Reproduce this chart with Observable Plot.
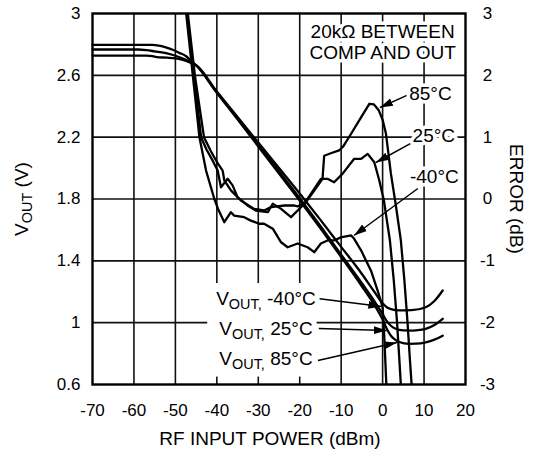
<!DOCTYPE html>
<html><head><meta charset="utf-8">
<script src="https://cdn.jsdelivr.net/npm/d3@7"></script>
<script src="https://cdn.jsdelivr.net/npm/@observablehq/plot@0.6"></script>
<style>
body{margin:0;background:#fff;}
#chart svg{display:block;}
</style></head><body><div id="chart"></div>
<script>
// ---- axes / ticks ----
const xTicks = [-70, -60, -50, -40, -30, -20, -10, 0, 10, 20];
const xTickLabels = ["-70", "-60", "-50", "-40", "-30", "-20", "-10", "0", "10", "20"];
const vTicks = [0.6, 1.0, 1.4, 1.8, 2.2, 2.6, 3.0];
const vTickLabels = ["0.6", "1", "1.4", "1.8", "2.2", "2.6", "3"];
const errTicks = [-3, -2, -1, 0, 1, 2, 3];
const errTickLabels = ["-3", "-2", "-1", "0", "1", "2", "3"];
const gridX = [-60, -50, -40, -30, -20, -10, 0, 10];
const gridV = [1.0, 1.4, 1.8, 2.2, 2.6];

// ---- VOUT (V) vs RF input power (dBm) ----
const voutM40 = [[-70,2.728],[-57,2.728],[-55.5,2.724],[-54.5,2.718],[-52,2.714],[-50,2.709],[-48,2.698],[-46.5,2.684],[-45,2.665],[-40,2.495],[-35,2.33],[-30,2.165],[-25,2.0],[-20,1.835],[-15,1.665],[-10,1.49],[-5,1.315],[-2,1.2],[0,1.125],[1,1.1],[2,1.088],[4,1.079],[7,1.081],[10.4,1.1],[12.5,1.14],[14.5,1.208]];
const vout25 = [[-70,2.767],[-59,2.767],[-57,2.763],[-55,2.755],[-52,2.742],[-49.5,2.722],[-47.5,2.70],[-46,2.68],[-45,2.665],[-40,2.49],[-35,2.32],[-30,2.15],[-25,1.98],[-20,1.805],[-15,1.625],[-10,1.44],[-5,1.255],[-2,1.14],[0,1.055],[1,1.01],[2,0.98],[3,0.962],[5,0.95],[7.2,0.949],[9,0.953],[10.4,0.96],[12.5,0.985],[14.5,1.025]];
const vout85 = [[-70,2.797],[-55.5,2.797],[-54,2.792],[-52.5,2.782],[-50.5,2.764],[-49,2.745],[-47.5,2.725],[-46.3,2.697],[-45,2.665],[-40,2.487],[-35,2.315],[-30,2.14],[-25,1.965],[-20,1.79],[-15,1.61],[-10,1.425],[-5,1.235],[-2,1.115],[0,1.02],[1,0.96],[2,0.915],[3,0.89],[4,0.875],[6.4,0.863],[8,0.864],[10.4,0.873],[12.5,0.89],[14.5,0.916]];

// ---- Error (dB) vs RF input power (dBm) ----
const errM40 = [[-48.7,3.8],[-47.4,3.0],[-45.8,2.0],[-44.2,1.0],[-42.6,0.46],[-40.6,0.0],[-39.7,-0.16],[-38.2,-0.375],[-36.6,-0.213],[-35.8,-0.27],[-33.4,-0.294],[-31.8,-0.35],[-29.8,-0.40],[-28.6,-0.40],[-26.5,-0.48],[-24.5,-0.70],[-22.9,-0.78],[-20.5,-0.72],[-18.1,-0.78],[-16.5,-0.86],[-14.9,-0.72],[-13.3,-0.67],[-11.7,-0.67],[-10.1,-0.62],[-7.6,-0.59],[-6.9,-0.64],[-5.2,-0.83],[-2.8,-1.16],[-1.2,-1.48],[0.0,-1.75],[0.4,-2.23],[0.9,-3.0],[1.0,-3.3]];
const err25 = [[-48.4,3.8],[-47.0,3.0],[-45.3,2.0],[-43.1,1.0],[-41.5,0.78],[-40,0.6],[-38.6,0.46],[-38.2,0.30],[-36.6,0.14],[-34.2,-0.024],[-31.0,-0.16],[-28.6,-0.186],[-26.9,-0.13],[-23.7,-0.105],[-21.3,-0.105],[-20.5,-0.12],[-18.9,-0.077],[-17.3,0.084],[-14.9,0.327],[-13.3,0.327],[-11.7,0.27],[-9.65,0.41],[-6.85,0.65],[-5.2,0.65],[-3.6,0.73],[-2.0,0.595],[-0.8,0.3],[0.3,-0.02],[1.76,-0.67],[2.7,-1.32],[3.45,-1.965],[4.05,-2.61],[4.4,-3.0],[4.6,-3.3]];
const err85 = [[-48.6,3.8],[-47.2,3.0],[-45.5,2.0],[-43.8,1.0],[-42.5,0.8],[-41,0.62],[-39.8,0.46],[-39.0,0.19],[-37.4,0.327],[-36.2,0.22],[-35.0,0.03],[-32.6,-0.105],[-30.6,-0.186],[-27.7,-0.213],[-26.5,-0.077],[-24.5,-0.16],[-22.1,-0.294],[-19.7,-0.133],[-18.5,-0.05],[-16.5,0.138],[-14.5,0.327],[-14.1,0.70],[-12.5,0.74],[-10.5,0.785],[-9.5,0.85],[-7.6,1.055],[-5.2,1.32],[-3.2,1.54],[-2.1,1.53],[-0.9,1.43],[0.0,1.28],[0.8,1.06],[2.0,0.41],[3.2,-0.105],[4.4,-0.67],[5.26,-1.32],[5.98,-1.965],[6.6,-2.61],[7.0,-3.0],[7.2,-3.3]];

// ---- annotations (data coordinates: dBm, V) ----
const noteText = ["20kΩ BETWEEN\nCOMP AND OUT"];
const noteAt = [0.0, 2.815];
const curveLabels = ["85°C", "25°C", "-40°C"];
const curveLabelAt = [[6.42, 2.478], [7.24, 2.207], [6.59, 1.941]];
const voutLabels = ["VOUT, -40°C", "VOUT, 25°C", "VOUT, 85°C"];
const voutLabelAt = [[-28.15, 1.154], [-28.15, 0.960], [-28.15, 0.766]];
const voutLabelBox = [[-42.2, 0.648, -15.8, 1.253]];
const arrowFrom = [[6.0, 2.472], [6.8, 2.16], [8.5, 1.868], [-15.2, 1.154], [-15.4, 0.962], [-15.6, 0.755]];
const arrowTo = [[-0.65, 2.392], [-1.62, 2.036], [-6.9, 1.564], [-0.3, 1.105], [1.0, 0.949], [3.45, 0.872]];

// error (dB, right axis) -> volts (left axis): -3..3 dB spans 0.6..3 V
const errToV = e => 1.8 + 0.4 * e;

const rows = (arr, s, f = v => v) => arr.map(([p, v]) => ({p, v: f(v), s}));
const voutRows = [...rows(voutM40, "-40"), ...rows(vout25, "25"), ...rows(vout85, "85")];
const errRows = [...rows(errM40, "-40", errToV), ...rows(err25, "25", errToV), ...rows(err85, "85", errToV)];
const arrowRows = arrowFrom.map((a, i) => ({x1: a[0], y1: a[1], x2: arrowTo[i][0], y2: arrowTo[i][1]}));
const idx = (arr, d) => arr.findIndex(t => Math.abs(t - d) < 1e-6);

const FONT = "'Liberation Sans', Arial, Helvetica, sans-serif";

const chart = Plot.plot({
  width: 533, height: 454,
  marginLeft: 92, marginRight: 68, marginTop: 13, marginBottom: 70,
  style: {fontFamily: FONT, fontSize: "17px", background: "white", color: "black", overflow: "visible"},
  x: {domain: [-70, 20], ticks: xTicks, tickFormat: d => xTickLabels[idx(xTicks, d)], tickSize: 0, tickPadding: 19, label: null},
  y: {domain: [0.6, 3], ticks: vTicks, tickFormat: d => vTickLabels[idx(vTicks, d)], tickSize: 0, tickPadding: 12, label: null},
  marks: [
    Plot.ruleX(gridX, {stroke: "#111", strokeWidth: 1.6}),
    Plot.ruleY(gridV, {stroke: "#111", strokeWidth: 1.6}),
    Plot.rect(voutLabelBox, {x1: d => d[0], y1: d => d[1], x2: d => d[2], y2: d => d[3], fill: "white"}),
    Plot.frame({stroke: "black", strokeWidth: 2.4}),
    Plot.line(voutRows, {x: "p", y: "v", z: "s", stroke: "black", strokeWidth: 2.3, curve: "monotone-x"}),
    Plot.line(errRows, {x: "p", y: "v", z: "s", stroke: "black", strokeWidth: 2.3, strokeLinejoin: "round", clip: true}),
    Plot.link(arrowRows, {x1: "x1", y1: "y1", x2: "x2", y2: "y2", stroke: "black", strokeWidth: 1.5}),
    Plot.text(noteText, {x: () => noteAt[0], y: () => noteAt[1], text: d => d, fontSize: 19, lineHeight: 1.1, textAnchor: "middle", lineAnchor: "middle", stroke: "white", strokeWidth: 7, fill: "black"}),
    Plot.text(curveLabels, {x: (d, i) => curveLabelAt[i][0], y: (d, i) => curveLabelAt[i][1], text: d => d, fontSize: 19, textAnchor: "start", lineAnchor: "middle", stroke: "white", strokeWidth: 7, fill: "black"}),
    Plot.text(voutLabels, {x: (d, i) => voutLabelAt[i][0], y: (d, i) => voutLabelAt[i][1], text: d => d, fontSize: 19, textAnchor: "middle", lineAnchor: "middle", fill: "black"}),
    Plot.text(errTicks, {y: d => errToV(d), text: (d, i) => errTickLabels[i], frameAnchor: "right", dx: 22, textAnchor: "middle", lineAnchor: "middle", fontSize: 17, fill: "black"}),
    Plot.text(["RF INPUT POWER (dBm)"], {frameAnchor: "bottom", dx: -9, dy: 54, text: d => d, fontSize: 19, lineAnchor: "middle", fill: "black"}),
    Plot.text(["VOUT (V)"], {frameAnchor: "left", dx: -71, dy: 0, rotate: -90, text: d => d, fontSize: 19, lineAnchor: "middle", textAnchor: "middle", fill: "black"}),
    Plot.text(["ERROR (dB)"], {frameAnchor: "right", dx: 51, dy: 0, rotate: 90, text: d => d, fontSize: 19, lineAnchor: "middle", textAnchor: "middle", fill: "black"})
  ]
});

// subscripts for V_OUT
d3.select(chart).selectAll("text").each(function () {
  const s = this.textContent;
  if (!s.startsWith("VOUT")) return;
  let rest = s.slice(4), sub = "OUT";
  if (rest.startsWith(",")) { sub = "OUT,"; rest = rest.slice(1); }
  const t = d3.select(this).style("white-space", "pre");
  t.text(null);
  t.append("tspan").text("V");
  t.append("tspan").attr("font-size", "0.76em").attr("dy", 4).text(sub);
  t.append("tspan").attr("dy", -4).text(rest);
});

// filled arrowheads
const defs = d3.select(chart).insert("defs", ":first-child");
defs.append("marker").attr("id", "ahead").attr("markerUnits", "userSpaceOnUse")
  .attr("markerWidth", 14).attr("markerHeight", 10).attr("refX", 13).attr("refY", 5).attr("orient", "auto")
  .append("path").attr("d", "M0,1L13,5L0,9Z").attr("fill", "black");
d3.select(chart).selectAll('g[aria-label="link"] path').attr("marker-end", "url(#ahead)");

document.getElementById("chart").appendChild(chart);
</script>
</body></html>
